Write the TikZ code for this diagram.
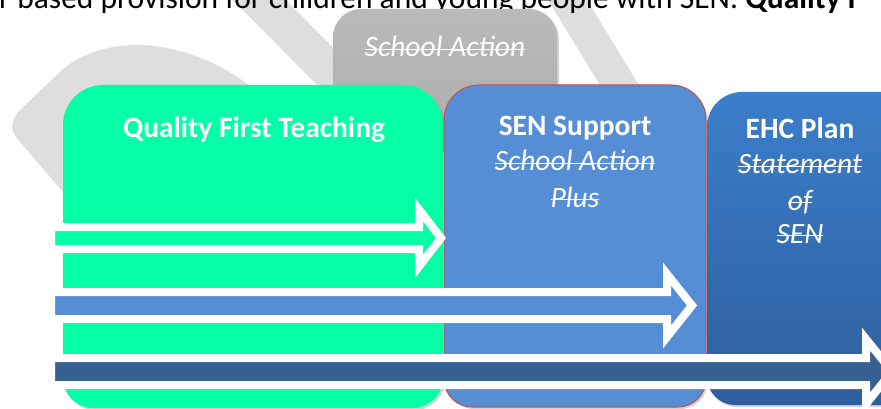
\documentclass[tikz,border=0pt]{standalone}
\usepackage{fontspec}
\setmainfont{Carlito}
\usetikzlibrary{shadows}
\definecolor{wm}{RGB}{222,222,222}
\definecolor{qft}{RGB}{4,255,166}
\definecolor{sen}{RGB}{85,142,213}
\definecolor{senedge}{RGB}{192,80,77}
\definecolor{ehctop}{RGB}{59,126,202}
\definecolor{ehcbot}{RGB}{46,94,158}
\definecolor{arrowdark}{RGB}{55,96,146}
\definecolor{satop}{RGB}{186,186,186}
\definecolor{sabot}{RGB}{172,172,172}
\newsavebox{\strkbox}
\newcommand{\oldterm}[1]{\itshape\sbox{\strkbox}{#1}\rlap{\rule[0.5ex]{\wd\strkbox}{1.4pt}}\usebox{\strkbox}}
\begin{document}
\begin{tikzpicture}[x=1pt,y=-1pt,
  boxshadow/.style={drop shadow={opacity=0.35, shadow xshift=2pt, shadow yshift=-2pt}},
  boxtext/.style={text=white, font=\fontsize{29.5}{34}\selectfont, inner sep=0pt, anchor=base},
  arrowbody/.style={draw=white, line width=8pt, miter limit=10, line join=miter, boxshadow},
]
\useasboundingbox (0,0) rectangle (881,409);
\clip (0,0) rectangle (881,409);
% watermark
\fill[wm] (70,200) -- (20,142) .. controls (9,130) and (10,122) .. (20,110)
  -- (62,70) .. controls (110,30) and (190,40) .. (250,86) -- (250,200) -- cycle;
\fill[wm] (228,-5) -- (281,-5) -- (380,95) -- (327,95) -- cycle;
\fill[wm] (545,-5) -- (584,-5) -- (648,100) -- (609,100) -- cycle;
% top text
\node[anchor=base west, inner sep=0pt, font=\fontsize{31.5}{36}\selectfont] (intro) at (-1,9)
  {r based provision for children and young people with SEN. \textbf{Quality F}};
% boxes
\path[top color=satop, bottom color=sabot, boxshadow, rounded corners=28pt] (333,100) -- (333,9) -- (557,9) -- (557,150) -- (333,150) -- cycle;
\path[fill=qft, boxshadow] (63,250) [rounded corners=40pt] -- (63,85) -- (443,85) -- (443,250)
  [rounded corners=30pt] -- (443,408) -- (63,408) -- cycle;
\path[fill=sen, draw=senedge, line width=1pt, boxshadow] (444,250) [rounded corners=35pt] -- (444,85) -- (706,85) -- (706,250)
  [rounded corners=28pt] -- (706,407) -- (444,407) -- cycle;
\path[top color=ehctop, bottom color=ehcbot, boxshadow] (707,250) [rounded corners=35pt] -- (707,92) -- (920,92) -- (920,250)
  [rounded corners=28pt] -- (920,405) -- (707,405) -- cycle;
% texts
\node[boxtext] (satext) at (445,57) {\oldterm{School Action}};
\node[boxtext] (qfttext) at (254,138) {\textbf{Quality First Teaching}};
\node[boxtext] (sentitle) at (575,136) {\textbf{SEN Support}};
\node[boxtext] (senold1) at (575,171) {\oldterm{School Action}};
\node[boxtext] (senold2) at (575,207) {\oldterm{Plus}};
\node[boxtext] (ehctitle) at (800,139) {\textbf{EHC Plan}};
\node[boxtext] (ehcold1) at (800,174) {\oldterm{Statement}};
\node[boxtext] (ehcold2) at (800,210) {\oldterm{of}};
\node[boxtext] (ehcold3) at (800,243) {\oldterm{SEN}};
% arrows
\path[arrowbody, fill=qft] (51,227) -- (419,227) -- (419,209.5) -- (441,238) -- (419,266.5) -- (419,249) -- (51,249) -- cycle;
\path[arrowbody, fill=sen] (51,292) -- (667,292) -- (667,274) -- (692,305.5) -- (667,337) -- (667,319) -- (51,319) -- cycle;
\path[arrowbody, fill=arrowdark] (51,358) -- (866,358) -- (866,339) -- (892,371.5) -- (866,404) -- (866,385) -- (51,385) -- cycle;
\end{tikzpicture}
\end{document}
